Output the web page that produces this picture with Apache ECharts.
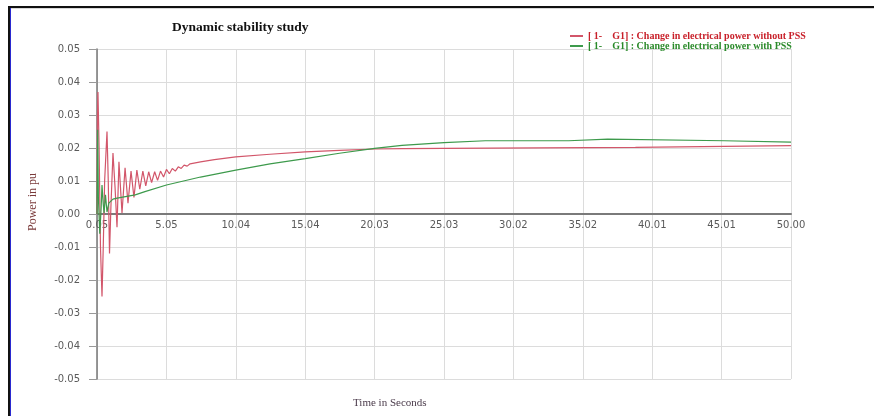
<!DOCTYPE html>
<html>
<head>
<meta charset="utf-8">
<script src="https://cdn.jsdelivr.net/npm/echarts@6/dist/echarts.min.js"></script>
<style>
  html, body { margin: 0; padding: 0; background: #fff; }
  #chart { width: 874px; height: 416px; }
</style>
</head>
<body>
<div id="chart"></div>
<script>
// Change in electrical power of generator G1 after a disturbance, with and without PSS
const seriesNames = [
  '[ 1-    G1] : Change in electrical power without PSS',
  '[ 1-    G1] : Change in electrical power with PSS'
];

// time (s), power (pu) — without PSS
const withoutPss = [
  [0.05, 0.000], [0.08, 0.030], [0.12, 0.037], [0.20, 0.020], [0.30, -0.010],
  [0.41, -0.025], [0.50, -0.010], [0.60, 0.010], [0.77, 0.025], [0.86, 0.010],
  [0.95, -0.012], [1.05, 0.002], [1.20, 0.0185], [1.35, 0.008], [1.49, -0.004],
  [1.63, 0.0158], [1.85, 0.0003], [2.07, 0.014], [2.28, 0.0033], [2.50, 0.013],
  [2.71, 0.005], [2.92, 0.0133], [3.13, 0.0075], [3.35, 0.013], [3.56, 0.0085],
  [3.77, 0.0128], [3.98, 0.0095], [4.20, 0.0128], [4.41, 0.0102], [4.62, 0.013],
  [4.84, 0.0112], [5.05, 0.0135], [5.26, 0.0122], [5.47, 0.0138], [5.69, 0.013],
  [5.90, 0.0143], [6.11, 0.0138], [6.32, 0.0148], [6.54, 0.0145], [6.75, 0.0152],
  [7.50, 0.0158], [8.50, 0.0165], [10.04, 0.0173], [12.50, 0.0181], [15.04, 0.0188],
  [17.50, 0.0193], [20.03, 0.0197], [22.00, 0.0198], [25.00, 0.0199], [25.03, 0.0202],
  [38.80, 0.0202], [38.85, 0.0207], [50.00, 0.0207]
];

// time (s), power (pu) — with PSS
const withPss = [
  [0.05, 0.000], [0.10, 0.0255], [0.15, 0.005], [0.25, -0.006], [0.35, 0.002],
  [0.41, 0.0088], [0.50, 0.003], [0.56, 0.0003], [0.66, 0.0058], [0.77, 0.0006],
  [0.90, 0.0033], [1.20, 0.0045], [1.50, 0.0048], [2.00, 0.0052], [2.80, 0.0058],
  [3.50, 0.0068], [5.05, 0.0088], [7.50, 0.0112], [10.04, 0.0133], [12.50, 0.0152],
  [15.04, 0.0168], [17.50, 0.0184], [20.03, 0.0199], [22.00, 0.0208], [25.03, 0.0216],
  [28.00, 0.0222], [34.00, 0.0222], [34.05, 0.0227], [36.80, 0.0227], [36.85, 0.0222],
  [45.20, 0.0222], [45.30, 0.0218], [50.00, 0.0218]
];

// time axis tick values
const xTicks = [0.05, 5.05, 10.04, 15.04, 20.03, 25.03, 30.02, 35.02, 40.01, 45.01, 50.00];
const yMin = -0.05, yMax = 0.05, yStep = 0.01;

const gridTop = 49, gridBottom = 37, chartHeight = 416;
// the time axis sits on the zero line, halfway up the symmetric power range
const zeroLift = -(chartHeight - gridTop - gridBottom) * (0 - yMin) / (yMax - yMin);

const chart = echarts.init(document.getElementById('chart'), null, { renderer: 'canvas' });

const redLine = '#d2566a';
const greenLine = '#3d9a4c';

chart.setOption({
  animation: false,
  backgroundColor: '#ffffff',
  title: {
    text: 'Dynamic stability study',
    left: 167, top: 16,
    textStyle: { fontFamily: 'Liberation Serif', fontWeight: 'bold', fontSize: 13.5, color: '#111' }
  },
  legend: {
    orient: 'vertical',
    left: 565, top: 26,
    itemWidth: 13, itemHeight: 2, itemGap: 0,
    icon: 'rect',
    textStyle: {
      fontFamily: 'Liberation Serif', fontWeight: 'bold', fontSize: 10, lineHeight: 10, padding: [0, 0, 0, 0]
    },
    data: [
      { name: seriesNames[0], textStyle: { color: '#c8202a' } },
      { name: seriesNames[1], textStyle: { color: '#2a8a2a' } }
    ]
  },
  grid: { left: 97, right: 83, top: gridTop, bottom: gridBottom },
  xAxis: {
    type: 'value',
    min: 0.05, max: 50,
    offset: zeroLift,
    axisLine: { onZero: false, lineStyle: { color: '#7a7a7a', width: 2 } },
    axisTick: { show: false, customValues: xTicks },
    axisLabel: {
      customValues: xTicks,
      formatter: v => v.toFixed(2),
      color: '#5a5a5a', fontFamily: 'DejaVu Sans', fontSize: 10, margin: 6
    },
    splitLine: { show: true, lineStyle: { color: '#dcdcdc', width: 1 } }
  },
  yAxis: {
    type: 'value',
    min: yMin, max: yMax, interval: yStep,
    axisLine: { show: true, onZero: false, lineStyle: { color: '#777', width: 1.5 } },
    axisTick: { show: true, inside: false, length: 8, lineStyle: { color: '#999' } },
    axisLabel: {
      formatter: v => v.toFixed(2),
      color: '#5a5a5a', fontFamily: 'DejaVu Sans', fontSize: 10, margin: 17
    },
    splitLine: { show: true, lineStyle: { color: '#dcdcdc', width: 1 } }
  },
  graphic: [
    { type: 'rect', shape: { x: 8, y: 6, width: 866, height: 2 }, style: { fill: '#111' }, silent: true },
    { type: 'rect', shape: { x: 8, y: 6, width: 2, height: 410 }, style: { fill: '#111' }, silent: true },
    { type: 'rect', shape: { x: 10, y: 8, width: 1, height: 408 }, style: { fill: '#2a2ad0' }, silent: true },
    { type: 'rect', shape: { x: 11, y: 8, width: 863, height: 1 }, style: { fill: '#d8d8d8' }, silent: true },
    {
      type: 'text', left: 353, top: 398,
      style: { text: 'Time in Seconds', font: '11px "Liberation Serif"', fill: '#4a3a4a' }
    },
    {
      type: 'text', x: 27, y: 231, rotation: Math.PI / 2,
      style: { text: 'Power in pu', font: '12px "Liberation Serif"', fill: '#7a3a3a', align: 'left', verticalAlign: 'top' }
    }
  ],
  series: [
    {
      name: seriesNames[0], type: 'line', data: withoutPss,
      showSymbol: false, symbol: 'none',
      lineStyle: { color: redLine, width: 1.2 },
      itemStyle: { color: redLine }
    },
    {
      name: seriesNames[1], type: 'line', data: withPss,
      showSymbol: false, symbol: 'none',
      lineStyle: { color: greenLine, width: 1.2 },
      itemStyle: { color: greenLine }
    }
  ]
});
</script>
</body>
</html>
